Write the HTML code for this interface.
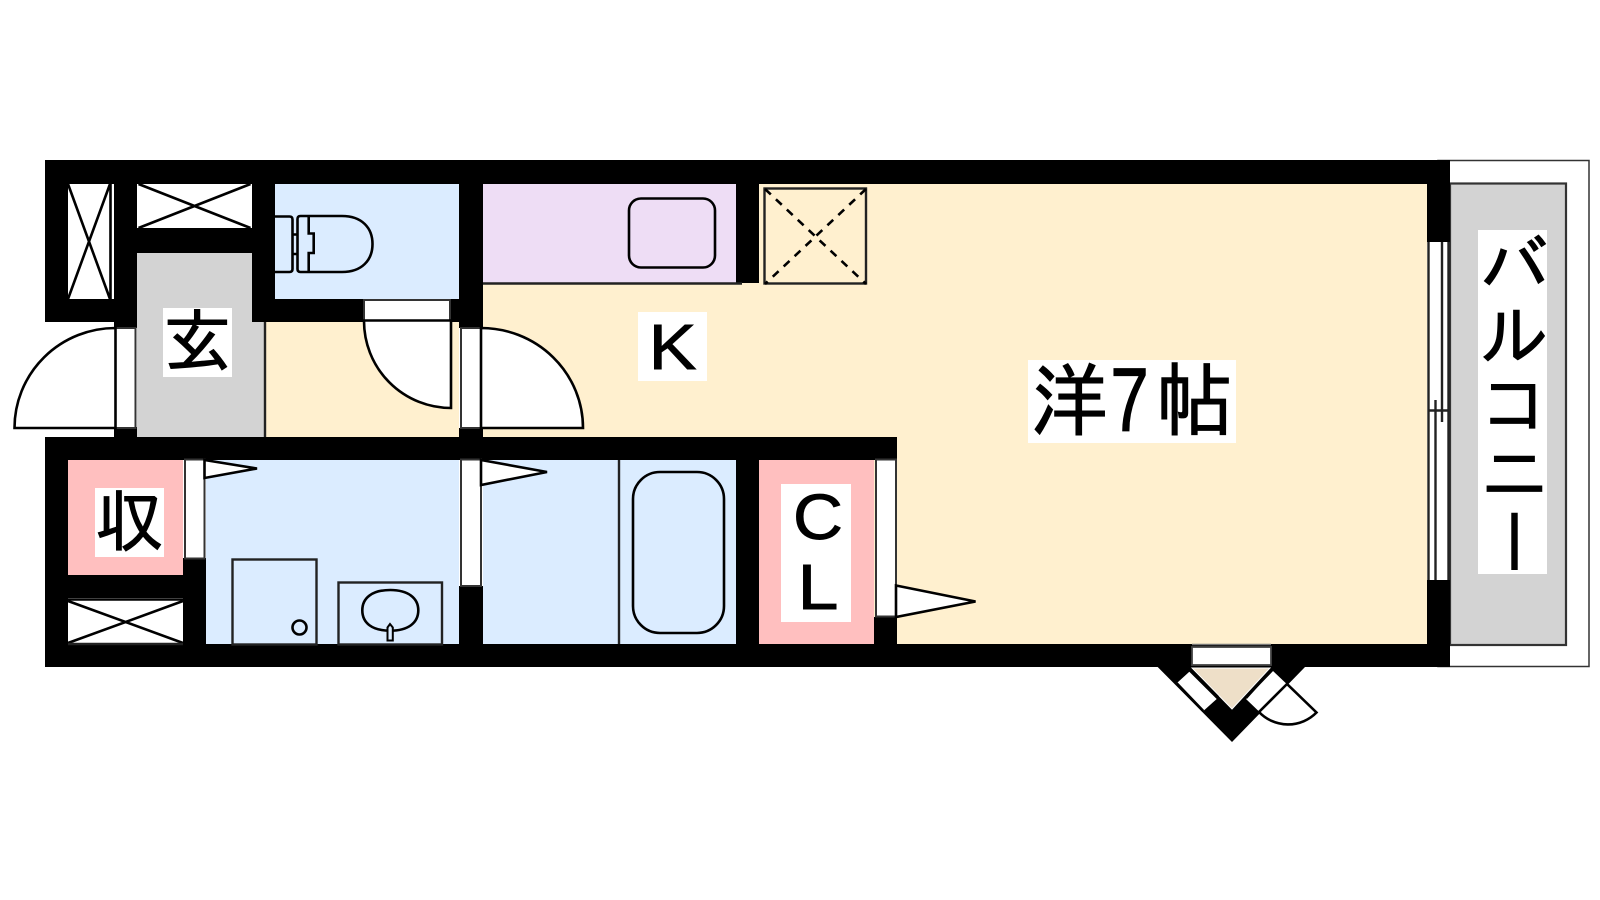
<!DOCTYPE html>
<html lang="ja"><head><meta charset="utf-8"><title>間取り図</title>
<style>
html,body{margin:0;padding:0;background:#fff;width:1600px;height:900px;overflow:hidden}
#p{position:relative;width:1600px;height:900px}
svg{position:absolute;left:0;top:0}
.l{position:absolute;background:#fff;color:#000;font-family:"Liberation Sans","IPAGothic","Noto Sans CJK JP",sans-serif;font-size:69px;line-height:69px;text-align:center;white-space:nowrap;-webkit-text-stroke:.9px #000}
.l span{position:absolute;display:block;text-align:center}
.ln{stroke:#000;stroke-width:2.6;fill:none}
.g{stroke:#222;stroke-width:2.4;fill:none}
.w{stroke:#333;stroke-width:2;fill:#fff}
.d{stroke:#000;stroke-width:2.6;fill:#fff}
</style></head><body><div id="p">
<svg width="1600" height="900" viewBox="0 0 1600 900">
<!-- balcony -->
<rect x="1438" y="160.5" width="151" height="506" fill="#fff" stroke="#333" stroke-width="1.5"/>
<rect x="1450" y="183.5" width="116" height="461.500" fill="#d3d3d3" stroke="#333" stroke-width="2.200"/>
<!-- floors -->
<rect x="483" y="184" width="944" height="460" fill="#fff0cf"/>
<rect x="265" y="322" width="194" height="115" fill="#fff0cf"/>
<rect x="275" y="184" width="184" height="115" fill="#dbecff"/>
<rect x="206" y="460" width="253" height="184" fill="#dbecff"/>
<rect x="483" y="460" width="253" height="184" fill="#dbecff"/>
<rect x="483" y="184" width="253" height="99" fill="#eeddf5"/>
<rect x="68" y="460" width="115" height="115" fill="#ffbfbf"/>
<rect x="759" y="460" width="115" height="184" fill="#ffbfbf"/>
<rect x="137" y="253" width="115" height="184" fill="#d3d3d3"/>
<rect x="252" y="322" width="13" height="115" fill="#d3d3d3"/>
<!-- walls -->
<g fill="#000">
<rect x="45" y="160" width="1405" height="24"/>
<rect x="45" y="160" width="23" height="162"/>
<rect x="45" y="299" width="92" height="23"/>
<rect x="114" y="160" width="23" height="168"/>
<rect x="137" y="228" width="138" height="25"/>
<rect x="252" y="160" width="23" height="162"/>
<rect x="252" y="299" width="231" height="23"/>
<rect x="459" y="160" width="24" height="168"/>
<rect x="736" y="160" width="23" height="123"/>
<rect x="1427" y="160" width="23" height="82"/>
<rect x="1427" y="580" width="23" height="87"/>
<rect x="114" y="427" width="23" height="10"/>
<rect x="459" y="428" width="24" height="9"/>
<rect x="45" y="437" width="852" height="23"/>
<rect x="45" y="437" width="23" height="230"/>
<rect x="45" y="644" width="1405" height="23"/>
<rect x="68" y="575" width="138" height="24"/>
<rect x="183" y="558" width="23" height="86"/>
<rect x="459" y="586" width="24" height="58"/>
<rect x="736" y="460" width="23" height="184"/>
<rect x="874" y="617" width="23" height="27"/>
</g>
<!-- closets -->
<rect x="68" y="184" width="46" height="115" fill="#fff"/>
<path class="ln" d="M110.500 184V299M68 184L110 299M110 184L68 299"/>
<rect x="138.500" y="184" width="112" height="44" fill="#fff"/>
<path class="ln" d="M138.500 184L250.500 228M250.500 184L138.500 228"/>
<rect x="68" y="598" width="115" height="46" fill="#fff"/>
<path class="ln" d="M68 599.500H183"/>
<path class="ln" d="M68 601L183 643M183 601L68 643"/>
<path class="g" d="M68 644H183"/>
<!-- left entrance door -->
<rect x="115.500" y="328" width="20" height="100" class="w"/>
<path class="d" d="M115.500 328A101 100 0 0 0 14.500 428H115.500Z"/>
<path class="g" d="M265 322V437"/>
<!-- toilet door -->
<rect x="364" y="300" width="86" height="20.500" class="w"/>
<path class="d" d="M364 320.500A87 87 0 0 0 451 408V320.500Z"/>
<!-- LDK door -->
<rect x="461" y="328" width="20" height="100" class="w"/>
<path class="d" d="M481 328A102 100 0 0 1 583 428H481Z"/>
<!-- washroom door -->
<rect x="185" y="459.500" width="19.500" height="99" class="w"/>
<path class="d" d="M204.500 460L257 468.500L204.500 478Z"/>
<rect x="461" y="459.500" width="20" height="126.500" class="w"/>
<path class="d" d="M481 460L547 472L481 485Z"/>
<!-- CL door -->
<rect x="876" y="459.500" width="20" height="157" class="w"/>
<path class="d" d="M896 585.500L975.500 601.500L896 617Z"/>
<!-- toilet -->
<path class="ln" d="M275 216.500H289.500Q292.500 216.500 292.500 219.500V269Q292.500 272 289.500 272H275"/>
<path class="ln" d="M292.500 234.500H297.500M292.500 254H297.500"/>
<path class="ln" d="M300.500 216H342C362 216 372.500 228 372.500 244C372.500 260 362 272 342 272H300.500Q297.500 272 297.500 269V219Q297.500 216 300.500 216Z"/>
<path class="ln" d="M308.700 216V233.500H313.700V253H308.700V272.500"/>
<!-- washer / basin -->
<rect x="232.500" y="559.500" width="84" height="85" class="g"/>
<circle cx="299.500" cy="627.500" r="7" class="ln"/>
<rect x="338.500" y="582.500" width="103.500" height="62" class="g"/>
<path class="ln" d="M390.300 590C408 590 418.300 598 418.300 610.300C418.300 623 408 630.700 390.300 630.700C372 630.700 362.300 623 362.300 610.300C362.300 598 372 590 390.300 590Z"/>
<path d="M387.500 640.500V627.500L390 624L392.800 627.500V640.500Z" fill="#dbecff" stroke="#000" stroke-width="2"/>
<!-- bath -->
<path class="g" d="M619 460V644"/>
<rect x="633" y="472" width="91" height="161" rx="27" ry="27" class="ln"/>
<!-- kitchen -->
<path class="g" d="M483 283.500H742"/>
<rect x="629" y="198.500" width="86" height="69" rx="12" ry="12" class="ln"/>
<rect x="764.500" y="188.500" width="101.500" height="95" class="g"/>
<path d="M765 189L866 284M866 189L765 284" stroke="#000" stroke-width="2.600" stroke-dasharray="8 7" fill="none"/>
<!-- right window -->
<rect x="1428.500" y="242" width="20" height="338" fill="#fff"/>
<path class="g" d="M1428.500 242V580M1448.500 242V580M1442 242V422M1435.500 400V580M1428.500 410.500H1448.500"/>
<!-- bay window -->
<path d="M1157.700 667L1232 742L1305 667Z" fill="#000"/>
<rect x="1192" y="647" width="79" height="18" fill="#fff" stroke="#444" stroke-width="1.800"/>
<path d="M1192 644.500H1271" stroke="#777" stroke-width="1.500" fill="none"/>
<path d="M1192 668L1232 709L1270 668Z" fill="#eedfc8" stroke="#fff" stroke-width="1"/>
<path d="M1176.700 683.300L1189.300 671.700L1216.700 699L1203.300 711Z" fill="#fff"/>
<path d="M1246 699L1273 671L1286.700 684L1259.300 711.700Z" fill="#fff"/>
<path d="M1287 684L1259 712A40 40 0 0 0 1316.500 712.500Z" fill="#fff" stroke="#000" stroke-width="2.600"/>
<path d="M1190 668.500L1218 697M1273 669L1259.500 683L1246 698" stroke="#000" stroke-width="2.600" fill="none"/>
<path d="M1176.700 683.300L1203.300 711" stroke="#000" stroke-width="2.600" fill="none"/>
</svg>
<div class="l" style="left:163px;top:308px;width:69px;height:69px">玄</div>
<div class="l" style="left:95px;top:488px;width:69px;height:69px">収</div>
<div class="l" style="left:638px;top:312px;width:69px;height:69px;font-size:64px"><span style="left:0;top:1px;width:69px;transform:scaleX(1.12)">K</span></div>
<div class="l" style="left:781px;top:484px;width:70px;height:138px;font-size:64px"><span style="left:2px;top:-1px;width:70px;transform:scaleX(1.08)">C</span><span style="left:2px;top:69px;width:70px;transform:scaleX(1.15)">L</span></div>
<div class="l" style="left:1028px;top:360px;width:208px;height:83px"><span style="left:5px;top:6px;width:73px;font-size:73px;line-height:73px;transform:scale(1.06,1.1)">洋</span><span style="left:67px;top:6px;width:69px;transform:scaleY(1.3)">7</span><span style="left:130px;top:6px;width:73px;font-size:73px;line-height:73px;transform:scale(1.06,1.1)">帖</span></div>
<div class="l" style="left:1478px;top:230px;width:69px;height:344px;writing-mode:vertical-rl;text-orientation:upright;line-height:69px">バルコニー</div>
</div></body></html>
